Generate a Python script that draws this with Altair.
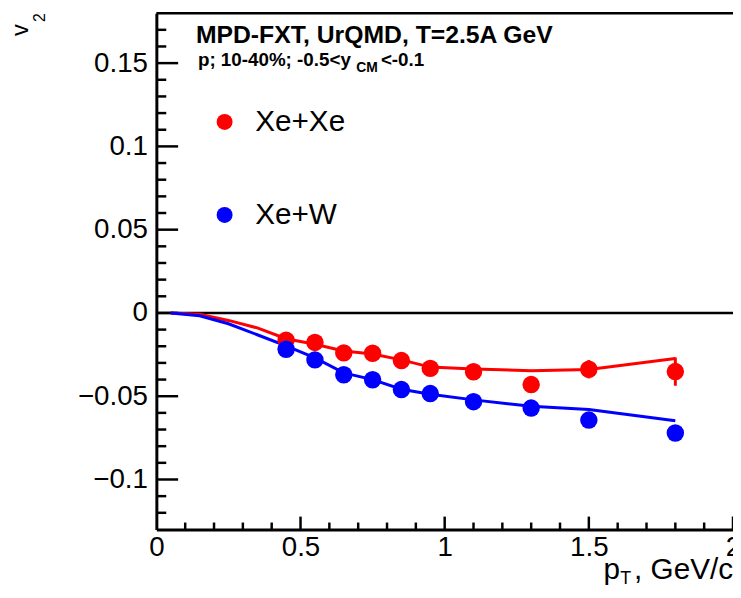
import altair as alt
import pandas as pd

# ---------------- data ----------------
series_names = ["Xe+Xe", "Xe+W"]
series_colors = ["#ff0000", "#0000ff"]

pt = [0.45, 0.55, 0.65, 0.75, 0.85, 0.95, 1.1, 1.3, 1.5, 1.8]
v2_xexe = [-0.0163, -0.0177, -0.0240, -0.0242, -0.0286, -0.0333, -0.0353, -0.0430, -0.0338, -0.0352]
v2_xexe_err = [0.0015, 0.0015, 0.0015, 0.0015, 0.0015, 0.0015, 0.0015, 0.0015, 0.0055, 0.0085]
v2_xew = [-0.0218, -0.0282, -0.0371, -0.0401, -0.0460, -0.0484, -0.0533, -0.0571, -0.0643, -0.0721]

line_pt = [0.05, 0.15, 0.25, 0.35, 0.45, 0.55, 0.65, 0.75, 0.85, 0.95, 1.1, 1.3, 1.5, 1.8]
line_xexe = [0.0, -0.0008, -0.0045, -0.0090, -0.0155, -0.0188, -0.0228, -0.0247, -0.0282, -0.0325, -0.0336, -0.0347, -0.0339, -0.0274]
line_xew = [0.0, -0.0017, -0.0065, -0.0131, -0.0198, -0.0270, -0.0360, -0.0400, -0.0458, -0.0488, -0.0522, -0.0560, -0.0580, -0.0647]

x_ticks_major = [0.5, 1.0, 1.5, 2.0]
x_ticks_minor = [0.1, 0.2, 0.3, 0.4, 0.6, 0.7, 0.8, 0.9, 1.1, 1.2, 1.3, 1.4, 1.6, 1.7, 1.8, 1.9]
y_ticks_major = [-0.1, -0.05, 0.0, 0.05, 0.1, 0.15]
y_ticks_minor = [-0.12, -0.11, -0.09, -0.08, -0.07, -0.06, -0.04, -0.03, -0.02, -0.01,
                 0.01, 0.02, 0.03, 0.04, 0.06, 0.07, 0.08, 0.09, 0.11, 0.12, 0.13, 0.14, 0.16, 0.17]
x_label_values = [0, 0.5, 1, 1.5, 2]
y_label_values = [-0.1, -0.05, 0, 0.05, 0.1, 0.15]
x_range = [0, 2]
y_range = [-0.13, 0.18]

header1 = "MPD-FXT, UrQMD, T=2.5A GeV"
header2 = ["p; 10-40%; -0.5<y", "CM", "<-0.1"]
x_title = ["p", "T", ", GeV/c"]
y_title = ["v", "2"]

# ---------------- tables ----------------
pts = pd.DataFrame({
    "pt": pt * 2,
    "v2": v2_xexe + v2_xew,
    "series": [series_names[0]] * len(pt) + [series_names[1]] * len(pt),
})
err = pd.DataFrame({
    "pt": pt,
    "lo": [v - e for v, e in zip(v2_xexe, v2_xexe_err)],
    "hi": [v + e for v, e in zip(v2_xexe, v2_xexe_err)],
})
lines = pd.DataFrame({
    "pt": line_pt * 2,
    "v2": line_xexe + line_xew,
    "series": [series_names[0]] * len(line_pt) + [series_names[1]] * len(line_pt),
})

FONT = "Liberation Sans"
W, H = 583, 522

xscale = alt.Scale(domain=x_range, nice=False, zero=False)
yscale = alt.Scale(domain=y_range, nice=False, zero=False)
xaxis = alt.Axis(values=x_label_values, format="~f", title=None, ticks=False, tickSize=0,
                 grid=False, labelPadding=4, labelFontSize=28, labelFont=FONT,
                 labelColor="black", labelFlush=False, labelOverlap=False,
                 domainColor="black", domainWidth=3)
yaxis = alt.Axis(values=y_label_values, format="~f", title=None, ticks=False, tickSize=0,
                 grid=False, labelPadding=9, labelFontSize=28, labelFont=FONT,
                 labelColor="black", labelFlush=False, labelOverlap=False,
                 domainColor="black", domainWidth=3)


def X(f):
    return alt.X(f, type="quantitative", scale=xscale, axis=xaxis)


def Y(f):
    return alt.Y(f, type="quantitative", scale=yscale, axis=yaxis)


cscale = alt.Scale(domain=series_names, range=series_colors)

zero_line = alt.Chart(pd.DataFrame({"v": [0.0]})).mark_rule(color="black", strokeWidth=2.5).encode(
    y=Y("v"))
top_frame = alt.Chart(pd.DataFrame({"v": [y_range[1]]})).mark_rule(color="black", strokeWidth=2.5).encode(
    y=Y("v"))

yt_major = alt.Chart(pd.DataFrame({"v": y_ticks_major})).mark_rule(color="black", strokeWidth=2.5).encode(
    y=Y("v"), x=alt.value(0), x2=alt.value(22))
yt_minor = alt.Chart(pd.DataFrame({"v": y_ticks_minor})).mark_rule(color="black", strokeWidth=2.5).encode(
    y=Y("v"), x=alt.value(0), x2=alt.value(10))
xt_major = alt.Chart(pd.DataFrame({"v": x_ticks_major})).mark_rule(color="black", strokeWidth=2.5).encode(
    x=X("v"), y=alt.value(H), y2=alt.value(H - 13))
xt_minor = alt.Chart(pd.DataFrame({"v": x_ticks_minor})).mark_rule(color="black", strokeWidth=2.5).encode(
    x=X("v"), y=alt.value(H), y2=alt.value(H - 7))

line_layer = alt.Chart(lines).mark_line(strokeWidth=3).encode(
    x=X("pt"), y=Y("v2"),
    color=alt.Color("series:N", scale=cscale, legend=None),
    detail="series:N",
)
err_layer = alt.Chart(err).mark_rule(color=series_colors[0], strokeWidth=3).encode(
    x=X("pt"), y=Y("lo"), y2="hi")
point_layer = alt.Chart(pts).mark_circle(size=310, opacity=1).encode(
    x=X("pt"), y=Y("v2"),
    color=alt.Color("series:N", scale=cscale, legend=None),
)

one = pd.DataFrame({"a": [0]})

# legend (drawn by hand, ROOT TLegend style)
legend_marks = []
for name, col, ly in zip(series_names, series_colors, [110, 204]):
    legend_marks.append(
        alt.Chart(one).mark_circle(size=260, opacity=1, color=col).encode(
            x=alt.value(69), y=alt.value(ly)))
    legend_marks.append(
        alt.Chart(one).mark_text(font=FONT, fontSize=30, align="left", baseline="middle",
                                 color="black").encode(
            text=alt.value(name), x=alt.value(100), y=alt.value(ly)))


def txt(s, x, y, size, bold=False, angle=0, align="left"):
    kw = dict(font=FONT, fontSize=size, align=align, baseline="alphabetic", color="black")
    if bold:
        kw["fontWeight"] = "bold"
    if angle:
        kw["angle"] = angle
    return alt.Chart(one).mark_text(**kw).encode(
        text=alt.value(s), x=alt.value(x), y=alt.value(y))


texts = [
    txt(header1, 40, 30, 25, bold=True),
    txt(header2[0], 42, 53, 19, bold=True),
    txt(header2[1], 202, 59, 14, bold=True),
    txt(header2[2], 227, 53, 19, bold=True),
    txt(y_title[0], -130, 23, 24, angle=270),
    txt(y_title[1], -113, 9, 16, angle=270),
    txt(x_title[0], 452, 572, 30),
    txt(x_title[1], 469, 577, 18),
    txt(x_title[2], 583, 572, 30, align="right"),
]

chart = alt.layer(
    zero_line, top_frame, yt_major, yt_minor, xt_major, xt_minor,
    line_layer, err_layer, point_layer, *legend_marks, *texts
).properties(
    width=W, height=H,
    autosize=alt.AutoSizeParams(type="none"),
    padding={"left": 150, "top": 2, "right": 0, "bottom": 58},
).configure_view(
    stroke=None
).configure(background="white")

chart.save("out.html", embed_options={"renderer": "svg", "actions": False})
